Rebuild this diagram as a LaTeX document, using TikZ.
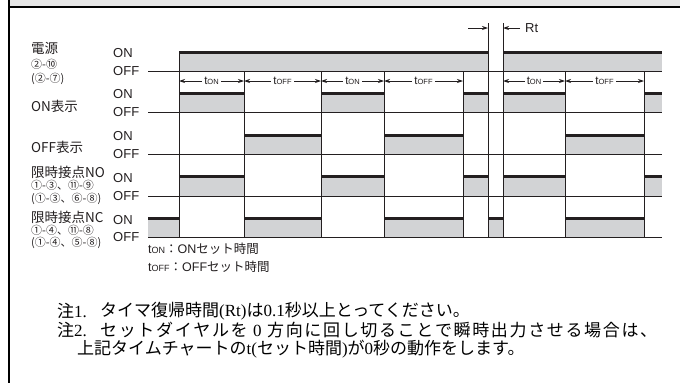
\documentclass[tikz,border=0pt]{standalone}
\usepackage{fontspec}
\setmainfont{Liberation Sans}
\newfontfamily\jp{Noto Sans CJK JP}
\newfontfamily\srf{Liberation Serif}
\usetikzlibrary{arrows.meta}
\definecolor{band}{RGB}{230,230,230}
\definecolor{sig}{RGB}{210,211,213}
\definecolor{ink}{RGB}{35,31,32}
\newcommand\tlab[1]{t{\fontsize{7.5pt}{8pt}\selectfont #1}}
\newcommand\tlabs[1]{t{\fontsize{9pt}{10pt}\selectfont #1}}
\newcommand\hf{\hfil}
\begin{document}
\begin{tikzpicture}[x=1pt,y=-1pt,
 thinline/.style={ink, line width=1pt},
 onl/.style={ink, line width=3pt},
 lab/.style={font=\jp\fontsize{13.5pt}{14pt}\selectfont, text=ink, anchor=west, inner sep=0pt},
 pinlab/.style={font=\jp\fontsize{11pt}{12pt}\selectfont, text=ink, anchor=west, inner sep=0pt},
 onoff/.style={font=\fontsize{13pt}{14pt}\selectfont, text=ink, anchor=west, inner sep=0pt},
 dimline/.style={ink, line width=0.8pt, {Stealth[length=6pt,width=4pt]}-{Stealth[length=6pt,width=4pt]}},
 arr/.style={ink, line width=0.8pt, -{Stealth[length=6pt,width=4pt]}},
 dimlab/.style={fill=white, inner sep=2pt, font=\fontsize{11.5pt}{12pt}\selectfont, text=ink},
 legend/.style={anchor=west, inner sep=0pt, text=ink, font=\fontsize{12.5pt}{13pt}\selectfont},
 note/.style={font=\jp\fontsize{17pt}{18pt}\selectfont, anchor=west, inner sep=0pt, text=black}
]
\path[use as bounding box] (0,0) rectangle (680,383);
% frame
\fill[band] (9,0) rectangle (680,7);
\draw[black, line width=2pt] (8,7) -- (680,7);
\draw[black, line width=2pt] (9,0) -- (9,383);

% signal fills
\foreach \yon/\yoff/\list in {
  52/71/{179/488,503/662},
  93/112/{179/244,321/384,463/488,503/565,644/662},
  135/154/{244/321,384/463,565/644},
  176/196/{179/244,321/384,463/488,503/565,644/662},
  218/237/{148/179,244/321,384/463,488/503,565/644}} {
  \foreach \a/\b in \list {
    \fill[sig] (\a,\yon) rectangle (\b,\yoff);
  }
}
% off lines
\foreach \yoff in {71,112,154,196,237}
  \draw[thinline] (148,\yoff) -- (662,\yoff);
% verticals
\foreach \x/\t in {179/52,244/71,321/71,384/71,463/71,565/71,644/71,488/23,503/23}
  \draw[thinline] (\x,\t) -- (\x,237);
% on lines
\foreach \yon/\list in {
  52/{179/488,503/662},
  93/{179/244,321/384,463/488,503/565,644/662},
  135/{244/321,384/463,565/644},
  176/{179/244,321/384,463/488,503/565,644/662},
  218/{148/179,244/321,384/463,488/503,565/644}} {
  \foreach \a/\b in \list {
    \draw[onl] (\a,\yon) -- (\b,\yon);
  }
}

% dimensions
\coordinate (d1) at (179,81); \coordinate (d2) at (244,81);
\coordinate (d3) at (321,81); \coordinate (d4) at (384,81);
\coordinate (d5) at (463,81); \coordinate (d6) at (503,81);
\coordinate (d7) at (565,81); \coordinate (d8) at (644,81);
\draw[dimline] (d1) -- node[dimlab] (l1) {\tlab{ON}} (d2);
\draw[dimline] (d2) -- node[dimlab] (l2) {\tlab{OFF}} (d3);
\draw[dimline] (d3) -- node[dimlab] (l3) {\tlab{ON}} (d4);
\draw[dimline] (d4) -- node[dimlab] (l4) {\tlab{OFF}} (d5);
\draw[dimline] (d6) -- node[dimlab] (l5) {\tlab{ON}} (d7);
\draw[dimline] (d7) -- node[dimlab] (l6) {\tlab{OFF}} (d8);

% Rt
\coordinate (r0) at (468,28); \coordinate (r1) at (488,28);
\coordinate (r2) at (503,28); \coordinate (r3) at (520,28);
\draw[arr] (r0) -- (r1);
\draw[arr] (r3) -- (r2);
\node[onoff] (rt) at (525,28) {Rt};

% left labels
\node[lab] (p1) at (31,48) {電源};
\node[pinlab] (p1a) at (31,64) {②-⑩};
\node[pinlab] (p1b) at (31,79) {(②-⑦)};
\node[lab] (p2) at (31,106) {ON表示};
\node[lab] (p3) at (31,147) {OFF表示};
\node[lab] (p4) at (31,172) {限時接点NO};
\node[pinlab] (p4a) at (31,185) {①-③、⑪-⑨};
\node[pinlab] (p4b) at (31,199) {(①-③、⑥-⑧)};
\node[lab] (p5) at (31,217) {限時接点NC};
\node[pinlab] (p5a) at (31,230) {①-④、⑪-⑧};
\node[pinlab] (p5b) at (31,243) {(①-④、⑤-⑧)};

% ON/OFF labels
\foreach \yon/\yoff [count=\i] in {53/71,94/112,136/154,178/196,220/237} {
  \node[onoff] (on\i) at (113,\yon) {ON};
  \node[onoff] (off\i) at (113,\yoff) {OFF};
}

% legend
\node[legend] (lg1) at (148,249) {\tlabs{ON}{\jp ：}ON{\jp セット時間}};
\node[legend] (lg2) at (148,267) {\tlabs{OFF}{\jp ：}OFF{\jp セット時間}};

% notes
\node[note] (n1a) at (57,311) {注{\srf 1.}};
\node[note] (n1) at (100,311) {タイマ復帰時間{\srf (Rt)}は{\srf 0.1}秒以上とってください。};
\node[note] (n2a) at (57,330) {注{\srf 2.}};
\node[note] (n2) at (100,330) {\makebox[557pt][s]{セ\hf ッ\hf ト\hf ダ\hf イ\hf ヤ\hf ル\hf を\hf{} {\srf 0} \hf 方\hf 向\hf に\hf 回\hf し\hf 切\hf る\hf こ\hf と\hf で\hf 瞬\hf 時\hf 出\hf 力\hf さ\hf せ\hf る\hf 場\hf 合\hf は\hf 、}};
\node[note] (n3) at (77,349) {上記タイムチャートの{\srf t(}セット時間{\srf )}が{\srf 0}秒の動作をします。};
\end{tikzpicture}
\end{document}
